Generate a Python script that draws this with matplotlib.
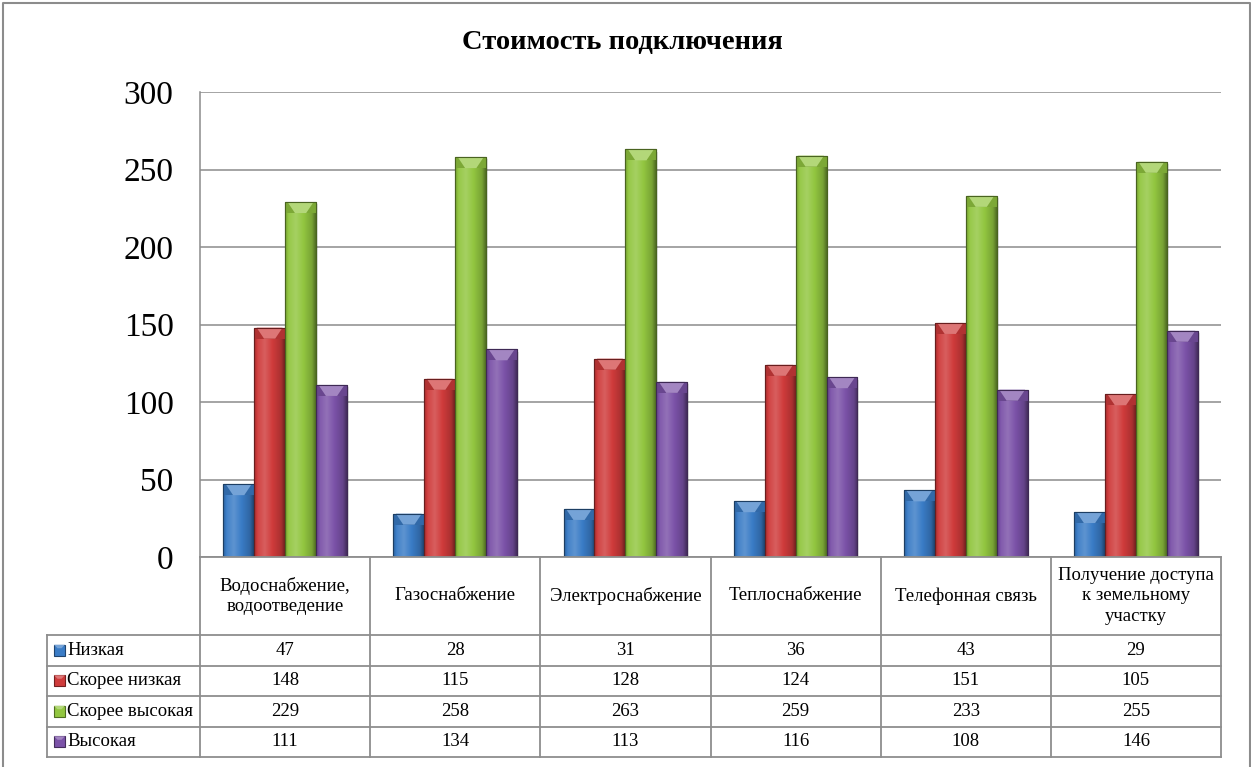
import matplotlib
matplotlib.use('Agg')
import matplotlib.pyplot as plt
import matplotlib.colors as mcolors
from matplotlib.patches import Polygon, Rectangle
import numpy as np

plt.rcParams['font.family'] = ['Liberation Serif', 'DejaVu Serif']

# данные
title = 'Стоимость подключения'
categories = ['Водоснабжение,\nводоотведение', 'Газоснабжение', 'Электроснабжение',
              'Теплоснабжение', 'Телефонная связь', 'Получение доступа\nк земельному\nучастку']
series_names = ['Низкая', 'Скорее низкая', 'Скорее высокая', 'Высокая']
low = [47, 28, 31, 36, 43, 29]
rather_low = [148, 115, 128, 124, 151, 105]
rather_high = [229, 258, 263, 259, 233, 255]
high = [111, 134, 113, 116, 108, 146]
series_values = [low, rather_low, rather_high, high]
colors = ['#3a7cc6', '#cf3b3b', '#92c640', '#7b52a8']
yticks = [0, 50, 100, 150, 200, 250, 300]

W, H = 1251, 767
fig = plt.figure(figsize=(W / 100, H / 100), dpi=100)
fig.patch.set_facecolor('white')

# область построения (в пикселях)
px_left, px_right, px_top, px_bottom = 200, 1221, 92, 557
ax = fig.add_axes([px_left / W, 1 - px_bottom / H,
                   (px_right - px_left) / W, (px_bottom - px_top) / H])

n_cat = len(categories)
n_ser = len(series_names)
bw = 1 / (n_ser + 1.5)
x = np.arange(n_cat)


def shade(c, f):
    r, g, b = mcolors.to_rgb(c)
    if f >= 1:
        t = f - 1
        return (r + (1 - r) * t, g + (1 - g) * t, b + (1 - b) * t)
    return (r * f, g * f, b * f)


def gradient_img(c):
    stops = [(0.0, 0.80), (0.12, 1.05), (0.35, 1.18), (0.6, 1.0), (0.88, 0.82), (1.0, 0.55)]
    xs = np.linspace(0, 1, 64)
    facs = np.interp(xs, [s[0] for s in stops], [s[1] for s in stops])
    return np.array([[shade(c, f) for f in facs]])


ppu = (px_bottom - px_top) / 300.0   # пикселей на единицу по оси y
ppx = (px_right - px_left) / n_cat    # пикселей на единицу по оси x
bevel_h = 11 / ppu
bevel_w = 8 / ppx

for k, (vals, c) in enumerate(zip(series_values, colors)):
    bars = ax.bar(x + (k - (n_ser - 1) / 2) * bw, vals, width=bw, color=c,
                  edgecolor=shade(c, 0.55), linewidth=0.8, zorder=3)
    img = gradient_img(c)
    for b in bars:
        bx, bwid, bh = b.get_x(), b.get_width(), b.get_height()
        # тень
        ax.add_patch(Rectangle((bx + bwid * 0.06, 0), bwid, bh - 1.5,
                               facecolor='#000000', alpha=0.10, edgecolor='none', zorder=2))
        im = ax.imshow(img, extent=(bx, bx + bwid, 0, bh), aspect='auto',
                       interpolation='bicubic', zorder=3.5)
        im.set_clip_path(b)
        # скос сверху
        hb = min(bevel_h, bh * 0.5)
        ax.add_patch(Polygon([(bx, bh), (bx + bwid, bh), (bx + bwid, bh - hb), (bx, bh - hb)],
                             closed=True, facecolor=shade(c, 0.85), edgecolor='none', zorder=3.6))
        ax.add_patch(Polygon([(bx + bwid * 0.08, bh), (bx + bwid * 0.92, bh),
                              (bx + bwid * 0.5 + bevel_w * 0.7, bh - hb),
                              (bx + bwid * 0.5 - bevel_w * 0.7, bh - hb)],
                             closed=True, facecolor=shade(c, 1.3), edgecolor='none', zorder=3.7))
        ax.add_patch(Rectangle((bx, 0), bwid, bh, facecolor='none',
                               edgecolor=shade(c, 0.5), linewidth=0.8, zorder=3.8))

ax.set_xlim(-0.5, n_cat - 0.5)
ax.set_ylim(0, 300)
ax.set_yticks(yticks)
ax.set_yticklabels([str(v) for v in yticks], fontsize=24)
ax.tick_params(axis='y', length=0, pad=19)
ax.set_xticks([])
ax.grid(axis='y', color='#8c8c8c', linewidth=1.1, zorder=0)
ax.set_axisbelow(True)
for s in ['top', 'right', 'bottom']:
    ax.spines[s].set_visible(False)
ax.spines['left'].set_color('#8c8c8c')
ax.spines['left'].set_linewidth(1.1)

# заголовок
fig.text(622 / W, 1 - 42 / H, title, ha='center', va='center',
         fontsize=20.5, fontweight='bold')

# таблица данных в пиксельных координатах
tab = fig.add_axes([0, 0, 1, 1], zorder=5)
tab.set_xlim(0, W)
tab.set_ylim(H, 0)
tab.axis('off')
tab.patch.set_alpha(0)

line_c = '#8e8e8e'
lw = 1.3
fs = 13.5
col_edges = [px_left + i * (px_right - px_left) / n_cat for i in range(n_cat + 1)]
legend_left = 47
cat_bottom = 635
row_h = 30.5
row_edges = [cat_bottom + i * row_h for i in range(n_ser + 1)]

# строка категорий
tab.plot([px_left, px_right], [px_bottom, px_bottom], color=line_c, lw=lw)
for xe in col_edges:
    tab.plot([xe, xe], [px_bottom, row_edges[-1]], color=line_c, lw=lw)
for i, cat in enumerate(categories):
    cx = (col_edges[i] + col_edges[i + 1]) / 2
    tab.text(cx, (px_bottom + cat_bottom) / 2, cat, ha='center', va='center',
             fontsize=fs, linespacing=1.3)

# строки серий
for ye in row_edges:
    tab.plot([legend_left, px_right], [ye, ye], color=line_c, lw=lw)
tab.plot([legend_left, legend_left], [row_edges[0], row_edges[-1]], color=line_c, lw=lw)

for r, (name, vals, c) in enumerate(zip(series_names, series_values, colors)):
    cy = (row_edges[r] + row_edges[r + 1]) / 2
    tab.add_patch(Rectangle((54, cy - 5.5), 11, 11, facecolor=c,
                            edgecolor=shade(c, 0.55), linewidth=0.8))
    tab.add_patch(Polygon([(54, cy - 5.5), (65, cy - 5.5), (61.5, cy - 2), (57.5, cy - 2)],
                          closed=True, facecolor=shade(c, 1.3), edgecolor='none'))
    tab.text(67, cy, name, ha='left', va='center', fontsize=fs)
    for i, v in enumerate(vals):
        cx = (col_edges[i] + col_edges[i + 1]) / 2
        tab.text(cx, cy, str(v), ha='center', va='center', fontsize=fs)

# рамка диаграммы
tab.plot([3, 3, 1250, 1250], [H + 5, 3, 3, H + 5], color='#8c8c8c', lw=1.5)

fig.savefig('out.png', dpi=100, facecolor='white')
